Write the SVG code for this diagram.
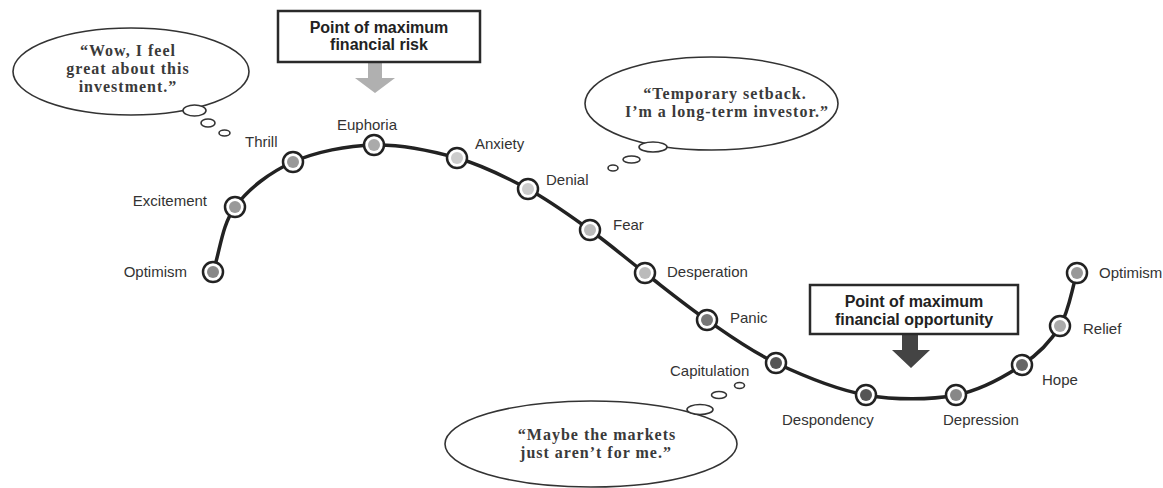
<svg xmlns="http://www.w3.org/2000/svg" width="1163" height="488" viewBox="0 0 1163 488">
<style>
.lbl{font-family:"Liberation Sans",Arial,sans-serif;font-size:15px;fill:#333}
.box{fill:#fff;stroke:#2a2a2a;stroke-width:2.5}
.btxt{font-family:"Liberation Sans",Arial,sans-serif;font-size:16px;font-weight:bold;fill:#222;text-anchor:middle}
.bub{fill:#fff;stroke:#333;stroke-width:1.6}
.qt{font-family:"Liberation Serif","Times New Roman",serif;font-size:16px;letter-spacing:1px;font-weight:bold;fill:#3a3a3a;text-anchor:middle}
.ring{fill:#fff;stroke:#222;stroke-width:2.5}
.curve{fill:none;stroke:#222;stroke-width:3.5;stroke-linecap:round}
</style>
<rect width="1163" height="488" fill="#fff"/>

<g id="connectors">
<path class="curve" d="M213,272 C220.3,250.3 221.7,225.3 235,207 C248.3,188.7 269.8,172.3 293,162 C316.2,151.7 346.7,145.7 374,145 C401.3,144.3 431.3,150.7 457,158 C482.7,165.3 505.8,177 528,189 C550.2,201 570.5,216 590,230 C609.5,244 625.5,258 645,273 C664.5,288 685.2,305 707,320 C728.8,335 749.5,350.5 776,363 C802.5,375.5 836,389.7 866,395 C896,400.3 930,400 956,395 C982,390 1004.7,376.5 1022,365 C1039.3,353.5 1050.8,341.3 1060,326 C1069.2,310.7 1071.3,290.7 1077,273"/>
<polygon points="368,62 382,62 382,78 395,78 375,93 355,78 368,78" fill="#b0b0b0"/>
<polygon points="902,334 918,334 918,350 930,350 911,368 892,350 902,350" fill="#444"/>
</g>

<g id="risk-box">
<rect class="box" x="278" y="11" width="202" height="51"/>
<text class="btxt" x="379" y="32.5">Point of maximum</text>
<text class="btxt" x="379" y="49.5">financial risk</text>
</g>

<g id="opportunity-box">
<rect class="box" x="810" y="285" width="208" height="49"/>
<text class="btxt" x="914" y="307">Point of maximum</text>
<text class="btxt" x="914" y="325">financial opportunity</text>
</g>

<g id="bubble-wow">
<ellipse class="bub" cx="131" cy="71.5" rx="118" ry="43.5"/>
<ellipse class="bub" cx="194.5" cy="110.5" rx="11.5" ry="5.5"/>
<ellipse class="bub" cx="208" cy="123" rx="7" ry="4"/>
<ellipse class="bub" cx="224.5" cy="133" rx="5.5" ry="3"/>
<text class="qt" x="128" y="56">“Wow, I feel</text>
<text class="qt" x="128" y="74">great about this</text>
<text class="qt" x="128" y="92">investment.”</text>
</g>

<g id="bubble-setback">
<ellipse class="bub" cx="711.5" cy="103.5" rx="126.5" ry="46.5"/>
<ellipse class="bub" cx="653" cy="147" rx="14" ry="5"/>
<ellipse class="bub" cx="631.5" cy="159.5" rx="8.5" ry="3.5"/>
<ellipse class="bub" cx="613" cy="168" rx="5" ry="3"/>
<text class="qt" x="725" y="98.5">“Temporary setback.</text>
<text class="qt" x="727" y="117">I’m a long-term investor.”</text>
</g>

<g id="bubble-markets">
<ellipse class="bub" cx="591" cy="444" rx="146" ry="43"/>
<ellipse class="bub" cx="700" cy="409.5" rx="13" ry="5"/>
<ellipse class="bub" cx="719" cy="395" rx="7.5" ry="3.5"/>
<ellipse class="bub" cx="739.5" cy="385.5" rx="5" ry="3"/>
<text class="qt" x="597" y="440">“Maybe the markets</text>
<text class="qt" x="596" y="458">just aren’t for me.”</text>
</g>

<g id="node-optimism-start"><circle class="ring" cx="213" cy="272" r="10"/><circle cx="213" cy="272" r="6" fill="#888"/><text class="lbl" x="187" y="277" text-anchor="end">Optimism</text></g>
<g id="node-excitement"><circle class="ring" cx="235" cy="207" r="10"/><circle cx="235" cy="207" r="6" fill="#999"/><text class="lbl" x="207" y="206" text-anchor="end">Excitement</text></g>
<g id="node-thrill"><circle class="ring" cx="293" cy="162" r="10"/><circle cx="293" cy="162" r="6" fill="#999"/><text class="lbl" x="245" y="147">Thrill</text></g>
<g id="node-euphoria"><circle class="ring" cx="374" cy="145" r="10"/><circle cx="374" cy="145" r="6" fill="#aaa"/><text class="lbl" x="337" y="130">Euphoria</text></g>
<g id="node-anxiety"><circle class="ring" cx="457" cy="158" r="10"/><circle cx="457" cy="158" r="6" fill="#ccc"/><text class="lbl" x="475" y="149">Anxiety</text></g>
<g id="node-denial"><circle class="ring" cx="528" cy="189" r="10"/><circle cx="528" cy="189" r="6" fill="#ccc"/><text class="lbl" x="546" y="185">Denial</text></g>
<g id="node-fear"><circle class="ring" cx="590" cy="230" r="10"/><circle cx="590" cy="230" r="6" fill="#bbb"/><text class="lbl" x="613" y="230">Fear</text></g>
<g id="node-desperation"><circle class="ring" cx="645" cy="273" r="10"/><circle cx="645" cy="273" r="6" fill="#bbb"/><text class="lbl" x="667" y="277">Desperation</text></g>
<g id="node-panic"><circle class="ring" cx="707" cy="320" r="10"/><circle cx="707" cy="320" r="6" fill="#777"/><text class="lbl" x="730" y="323">Panic</text></g>
<g id="node-capitulation"><circle class="ring" cx="776" cy="363" r="10"/><circle cx="776" cy="363" r="6" fill="#555"/><text class="lbl" x="670" y="376">Capitulation</text></g>
<g id="node-despondency"><circle class="ring" cx="866" cy="395" r="10"/><circle cx="866" cy="395" r="6" fill="#555"/><text class="lbl" x="782" y="425">Despondency</text></g>
<g id="node-depression"><circle class="ring" cx="956" cy="395" r="10"/><circle cx="956" cy="395" r="6" fill="#888"/><text class="lbl" x="943" y="425">Depression</text></g>
<g id="node-hope"><circle class="ring" cx="1022" cy="365" r="10"/><circle cx="1022" cy="365" r="6" fill="#666"/><text class="lbl" x="1042" y="385">Hope</text></g>
<g id="node-relief"><circle class="ring" cx="1060" cy="326" r="10"/><circle cx="1060" cy="326" r="6" fill="#aaa"/><text class="lbl" x="1083" y="334">Relief</text></g>
<g id="node-optimism-end"><circle class="ring" cx="1077" cy="273" r="10"/><circle cx="1077" cy="273" r="6" fill="#999"/><text class="lbl" x="1099" y="278">Optimism</text></g>
</svg>
